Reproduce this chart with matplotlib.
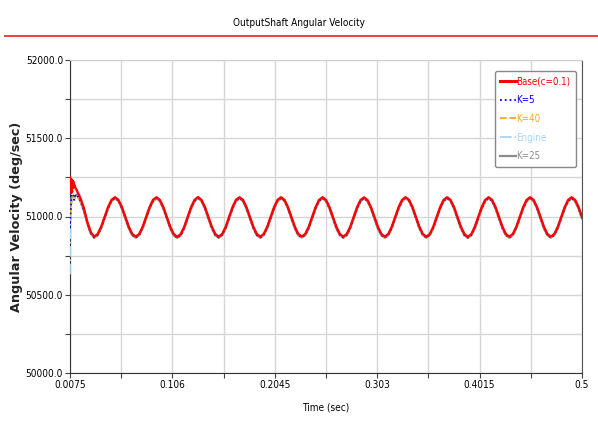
import numpy as np
import matplotlib
matplotlib.use("Agg")
import matplotlib.pyplot as plt
from matplotlib.lines import Line2D
from matplotlib import font_manager as fm

# ---------------- font choice: narrow sans if available ----------------
def pick_narrow():
    prefs = ["liberation sans narrow", "arial narrow", "dejavu sans condensed",
             "roboto condensed", "open sans condensed", "noto sans condensed"]
    entries = fm.fontManager.ttflist
    for p in prefs:
        for e in entries:
            fname = e.fname.lower().replace("-", " ").replace("_", " ")
            nm = (e.name + " " + fname).lower()
            if p in nm or p.replace(" ", "") in nm.replace(" ", ""):
                if e.weight in (400, "normal", "regular") and e.style == "normal":
                    return e.fname
    for e in entries:
        nm = (e.name + " " + e.fname).lower()
        if ("narrow" in nm or "condensed" in nm) and "bold" not in nm and "italic" not in nm \
                and "oblique" not in nm and "mono" not in nm:
            return e.fname
    return None

_nf = pick_narrow()
if _nf:
    def FP(size):
        return fm.FontProperties(fname=_nf, size=size)
else:
    def FP(size):
        return fm.FontProperties(family=["Liberation Sans", "DejaVu Sans"], size=size * 0.95)
BASE_SIZE = 7.2

# ---------------- data ----------------
series_names = ["Base(c=0.1)", "K=5", "K=40", "Engine", "K=25"]
series_colors = ["#ff0000", "#0000ff", "#f5a623", "#a8d4f0", "#8c8c8c"]

x_ticks = [0.0075, 0.106, 0.2045, 0.303, 0.4015, 0.5]
x_tick_labels = ["0.0075", "0.106", "0.2045", "0.303", "0.4015", "0.5"]
y_ticks = [50000, 50500, 51000, 51500, 52000]
y_tick_labels = ["50000.0", "50500.0", "51000.0", "51500.0", "52000.0"]

# early transient readings (t <= 0.0135 s)
base_early_t = [0.0075, 0.0079, 0.0084, 0.0089, 0.0094, 0.0100, 0.0106, 0.0113, 0.0120, 0.0128, 0.0135]
base_early_v = [51250, 51160, 51240, 51150, 51235, 51180, 51225, 51190, 51200, 51180, 51175]

k5_early_t = [0.0075, 0.0080, 0.0087, 0.0095, 0.0105, 0.0115, 0.0125, 0.0135]
k5_early_v = [50930, 51010, 51120, 51175, 51150, 51105, 51130, 51140]

k40_early_t = [0.0075, 0.0082, 0.0092, 0.0105, 0.0120, 0.0135]
k40_early_v = [51010, 51060, 51110, 51130, 51120, 51140]

engine_early_t = [0.0075, 0.0080, 0.0090, 0.0105, 0.0120, 0.0135]
engine_early_v = [50630, 50900, 51080, 51120, 51115, 51135]

k25_early_t = [0.0075, 0.0082, 0.0092, 0.0105, 0.0120, 0.0135]
k25_early_v = [50990, 51080, 51120, 51110, 51125, 51138]

# steady-state readings (sampled every ~0.00333 s from t = 0.0142 s to 0.5 s)
base_steady = [
    51165, 51118, 51054, 50965, 50900, 50871, 50888, 50934, 50997, 51060, 51106, 51123,
    51106, 51060, 50997, 50934, 50888, 50871, 50888, 50934, 50997, 51060, 51106, 51123,
    51105, 51059, 50996, 50933, 50887, 50870, 50887, 50933, 50997, 51060, 51106, 51124,
    51106, 51060, 50997, 50934, 50888, 50871, 50888, 50934, 50998, 51061, 51107, 51123,
    51106, 51060, 50997, 50934, 50888, 50871, 50888, 50934, 50997, 51060, 51106, 51123,
    51106, 51060, 50997, 50934, 50888, 50872, 50888, 50934, 50997, 51060, 51106, 51123,
    51106, 51060, 50997, 50934, 50888, 50871, 50888, 50934, 50997, 51060, 51106, 51122,
    51105, 51060, 50997, 50934, 50888, 50871, 50888, 50934, 50997, 51060, 51106, 51123,
    51106, 51060, 50997, 50934, 50888, 50871, 50888, 50934, 50997, 51060, 51106, 51123,
    51106, 51060, 50997, 50934, 50888, 50870, 50887, 50933, 50996, 51059, 51105, 51123,
    51106, 51060, 50997, 50934, 50888, 50871, 50888, 50934, 50997, 51060, 51106, 51123,
    51106, 51060, 50997, 50934, 50888, 50871, 50888, 50934, 50997, 51060, 51106, 51123,
    51106, 51060, 50997,
]
# the other runs settle a touch lower than the base run
others_steady = [
    51140, 51100, 51040, 50960, 50893, 50865, 50882, 50926, 50989, 51052, 51099, 51117,
    51100, 51053, 50989, 50926, 50881, 50865, 50882, 50926, 50989, 51052, 51099, 51117,
    51099, 51052, 50988, 50925, 50880, 50864, 50881, 50925, 50989, 51052, 51099, 51118,
    51100, 51053, 50989, 50926, 50881, 50865, 50882, 50926, 50990, 51053, 51100, 51117,
    51100, 51053, 50989, 50926, 50881, 50865, 50882, 50926, 50989, 51052, 51099, 51117,
    51100, 51053, 50989, 50926, 50881, 50866, 50882, 50926, 50989, 51052, 51099, 51117,
    51100, 51053, 50989, 50926, 50881, 50865, 50882, 50926, 50989, 51052, 51099, 51116,
    51099, 51053, 50989, 50926, 50881, 50865, 50882, 50926, 50989, 51052, 51099, 51117,
    51100, 51053, 50989, 50926, 50881, 50865, 50882, 50926, 50989, 51052, 51099, 51117,
    51100, 51053, 50989, 50926, 50881, 50864, 50881, 50925, 50988, 51051, 51098, 51117,
    51100, 51053, 50989, 50926, 50881, 50865, 50882, 50926, 50989, 51052, 51099, 51117,
    51100, 51053, 50989, 50926, 50881, 50865, 50882, 50926, 50989, 51052, 51099, 51117,
    51100, 51053, 50989,
]

t_grid = np.linspace(0.0075, 0.5, len(base_steady) + 2)[2:]

# ---------------- figure ----------------
fig = plt.figure(figsize=(5.98, 4.21), dpi=100)
ax = fig.add_axes([70 / 598, 1 - 373 / 421, 512 / 598, 313 / 421])

fig.text(0.5, 1 - 23 / 421, "OutputShaft Angular Velocity", ha="center", va="center",
         fontproperties=FP(BASE_SIZE), color="#000000")
fig.add_artist(Line2D([5 / 598, 1.0], [1 - 35.5 / 421] * 2, color="#e84848", lw=1.5,
                      transform=fig.transFigure))

def full(early_t, early_v, steady):
    return list(early_t) + list(t_grid), list(early_v) + list(steady)

t, v = full(k25_early_t, k25_early_v, others_steady)
ax.plot(t, v, color=series_colors[4], lw=1.8, ls="-", zorder=3)
t, v = full(engine_early_t, engine_early_v, others_steady)
ax.plot(t, v, color=series_colors[3], lw=1.2, ls="-.", zorder=4)
t, v = full(k40_early_t, k40_early_v, others_steady)
ax.plot(t, v, color=series_colors[2], lw=1.2, ls="--", zorder=5)
t, v = full(k5_early_t, k5_early_v, others_steady)
ax.plot(t, v, color=series_colors[1], lw=1.2, ls=":", zorder=6)
t, v = full(base_early_t, base_early_v, base_steady)
ax.plot(t, v, color=series_colors[0], lw=1.7, ls="-", zorder=7)

ax.set_xlim(0.0075, 0.5)
ax.set_ylim(50000, 52000)
ax.set_xticks(x_ticks)
ax.set_xticklabels(x_tick_labels, fontproperties=FP(BASE_SIZE), color="#000000")
ax.set_xticks([(a + b) / 2 for a, b in zip(x_ticks[:-1], x_ticks[1:])], minor=True)
ax.set_yticks(y_ticks)
ax.set_yticklabels(y_tick_labels, fontproperties=FP(BASE_SIZE), color="#000000")
ax.set_yticks([(a + b) / 2 for a, b in zip(y_ticks[:-1], y_ticks[1:])], minor=True)
ax.tick_params(which="both", direction="out", length=3.5, width=0.8, color="#444444", pad=1.5)
ax.grid(True, which="both", color="#d6d6d6", lw=1.0, zorder=0)
ax.set_axisbelow(True)

for s in ["left", "bottom"]:
    ax.spines[s].set_color("#333333")
ax.spines["right"].set_color("#555555")
ax.spines["top"].set_color("#cfcfcf")

ax.set_xlabel("Time (sec)", fontproperties=FP(BASE_SIZE), labelpad=9, color="#000000")
fig.text(17 / 598, 1 - 216.5 / 421, "Angular Velocity (deg/sec)", rotation=90,
         ha="center", va="center", fontsize=9.2, fontweight="bold", family="DejaVu Sans",
         color="#222222")

handles = [
    Line2D([], [], color=series_colors[0], lw=2.2, ls="-"),
    Line2D([], [], color=series_colors[1], lw=1.3, ls=":"),
    Line2D([], [], color=series_colors[2], lw=1.3, ls="--"),
    Line2D([], [], color=series_colors[3], lw=1.3, ls="-."),
    Line2D([], [], color=series_colors[4], lw=1.6, ls="-"),
]
leg = ax.legend(handles, series_names, loc="upper right", bbox_to_anchor=(506 / 512, 302 / 313),
                borderaxespad=0, prop=FP(BASE_SIZE - 0.2),
                handlelength=1.6, handletextpad=0.1, labelspacing=0.9,
                borderpad=0.55, fancybox=True, framealpha=1, edgecolor="#888888")
leg.get_frame().set_linewidth(1.0)
leg.get_frame().set_boxstyle("round", pad=0, rounding_size=0.2)
for txt, c in zip(leg.get_texts(), series_colors):
    txt.set_color(c)

fig.savefig("out.png", dpi=100, facecolor="white")
